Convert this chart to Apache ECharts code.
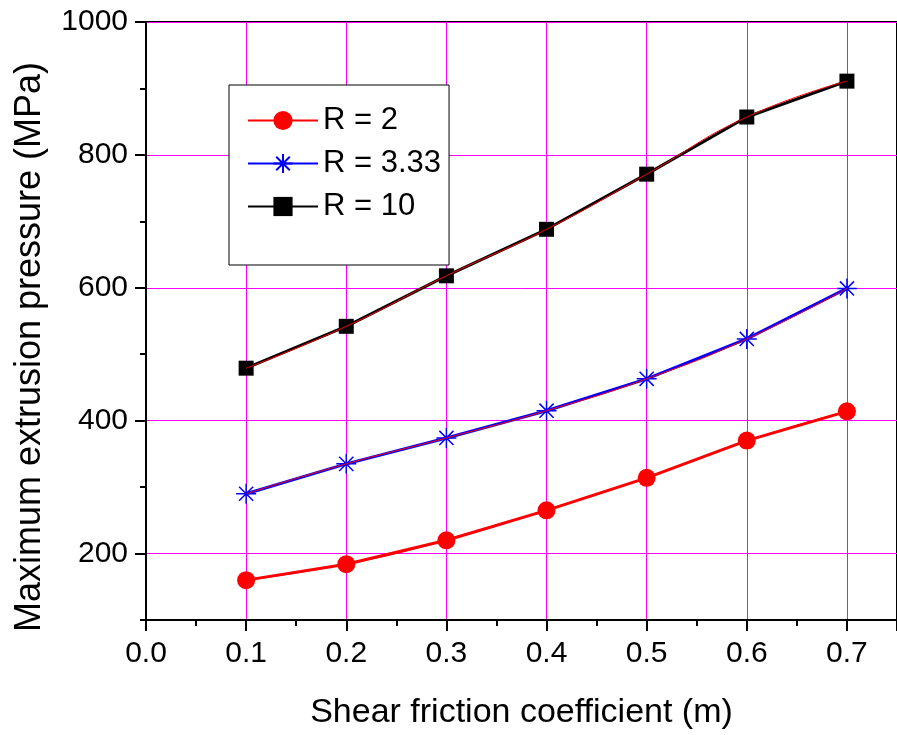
<!DOCTYPE html>
<html>
<head>
<meta charset="utf-8">
<script src="https://cdn.jsdelivr.net/npm/echarts@6/dist/echarts.min.js"></script>
<style>
html,body{margin:0;padding:0;background:#fff;}
#chart{width:897px;height:735px;}
</style>
</head>
<body>
<div id="chart"></div>
<script>
// ---- data ----
const frictionCoeff = [0.1, 0.2, 0.3, 0.4, 0.5, 0.6, 0.7];
const pressureR2 = [160, 184, 220, 265, 314, 370, 414];
const pressureR333 = [290, 335, 374, 415, 463, 523, 599];
const pressureR10 = [479, 542, 618, 688, 771, 857, 911];
const seriesNames = ['R = 2', 'R = 3.33', 'R = 10'];
const xTickValues = [0.0, 0.1, 0.2, 0.3, 0.4, 0.5, 0.6, 0.7];
const yTickValues = [200, 400, 600, 800, 1000];
const xTitle = 'Shear friction coefficient (m)';
const yTitle = 'Maximum extrusion pressure (MPa)';

const FONT = "'Liberation Sans', Arial, sans-serif";
const MAG = '#ff00ff';
const NONE = 'rgba(255,255,255,0)';
const pairs = (ys) => frictionCoeff.map((x, i) => [x, ys[i]]);
const asterisk = 'path://M10,0L10,20M0,10L20,10M2.93,2.93L17.07,17.07M2.93,17.07L17.07,2.93';

const chart = echarts.init(document.getElementById('chart'), null, {renderer: 'canvas'});
const option = {
  animation: false,
  backgroundColor: '#fff',
  grid: {left: 146, top: 22, right: -6, bottom: 113, show: true, borderColor: '#000', borderWidth: 2, backgroundColor: 'transparent'},
  legend: {
    data: seriesNames,
    left: 229, top: 85, orient: 'vertical',
    backgroundColor: '#fff',
    borderColor: '#000', borderWidth: 1,
    padding: [20, 8, 43, 18],
    itemWidth: 70, itemHeight: 24, itemGap: 12,
    textStyle: {fontFamily: FONT, fontSize: 31, color: '#000', lineHeight: 30}
  },
  xAxis: [
    {
      type: 'value', min: 0, max: 0.75, interval: 0.05, position: 'bottom',
      name: xTitle, nameLocation: 'middle', nameGap: 76,
      nameTextStyle: {fontFamily: FONT, fontSize: 34, color: '#000'},
      axisLine: {show: true, onZero: false, lineStyle: {color: '#000', width: 2}},
      axisTick: {show: true, length: 6, lineStyle: {color: '#000', width: 2}},
      axisLabel: {customValues: xTickValues, formatter: v => v.toFixed(1), fontFamily: FONT, fontSize: 30, color: '#000', margin: 19},
      splitLine: {show: true, lineStyle: {color: [MAG, NONE], width: 1}}
    },
    {
      type: 'value', min: 0, max: 0.75, interval: 0.1, position: 'bottom',
      axisLine: {show: false},
      axisTick: {show: true, length: 11, lineStyle: {color: '#000', width: 2}},
      axisLabel: {show: false},
      splitLine: {show: false}
    }
  ],
  yAxis: [
    {
      type: 'value', min: 100, max: 1000, interval: 100, position: 'left',
      name: yTitle, nameLocation: 'middle', nameGap: 98, nameRotate: 90,
      nameTextStyle: {fontFamily: FONT, fontSize: 36, color: '#000', padding: [0, 52, 0, 0]},
      axisLine: {show: true, onZero: false, lineStyle: {color: '#000', width: 2}},
      axisTick: {show: true, length: 6, lineStyle: {color: '#000', width: 2}},
      axisLabel: {customValues: yTickValues, formatter: v => String(v), fontFamily: FONT, fontSize: 30, color: '#000', margin: 18},
      splitLine: {show: true, lineStyle: {color: [NONE, MAG], width: 1}}
    },
    {
      type: 'value', min: 100, max: 1000, interval: 100, position: 'left',
      axisLine: {show: false},
      axisTick: {show: true, customValues: yTickValues, length: 11, lineStyle: {color: '#000', width: 2}},
      axisLabel: {show: false},
      splitLine: {show: false}
    }
  ],
  series: [
    {
      name: seriesNames[0], type: 'line', data: pairs(pressureR2), z: 2,
      symbol: 'circle', symbolSize: 18, itemStyle: {color: '#ff0000'},
      lineStyle: {color: '#ff0000', width: 3}
    },
    {
      name: seriesNames[1], type: 'line', data: pairs(pressureR333), z: 2,
      symbol: asterisk, symbolSize: 20,
      itemStyle: {color: '#0000ff', borderColor: '#0000ff', borderWidth: 1.5},
      lineStyle: {color: '#0000ff', width: 3}
    },
    {
      name: seriesNames[2], type: 'line', data: pairs(pressureR10), z: 2,
      symbol: 'rect', symbolSize: 15, itemStyle: {color: '#000'},
      lineStyle: {color: '#000', width: 3}
    },
    {name: 'fit R = 2', type: 'line', data: pairs(pressureR2), smooth: true, showSymbol: false, z: 3, lineStyle: {color: '#ff0000', width: 1}, itemStyle: {color: '#ff0000'}},
    {name: 'fit R = 3.33', type: 'line', data: pairs(pressureR333), smooth: true, showSymbol: false, z: 3, lineStyle: {color: '#ff0000', width: 1}, itemStyle: {color: '#ff0000'}},
    {name: 'fit R = 10', type: 'line', data: pairs(pressureR10), smooth: true, showSymbol: false, z: 3, lineStyle: {color: '#ff0000', width: 1}, itemStyle: {color: '#ff0000'}}
  ]
};
chart.setOption(option);
</script>
</body>
</html>
